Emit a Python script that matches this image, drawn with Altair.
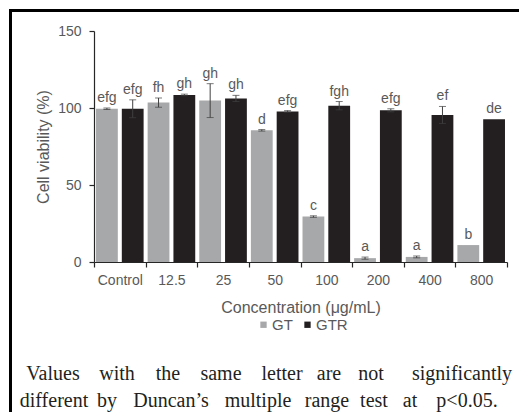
import altair as alt
import pandas as pd

categories = ["Control", "12.5", "25", "50", "100", "200", "400", "800"]
series = ["GT", "GTR"]

gt_values = [99.5, 103.5, 104.8, 85.5, 29.5, 2.5, 3.3, 11.0]
gt_errors = [0.5, 3.0, 11.0, 0.5, 0.5, 0.7, 0.6, 0.0]
gt_letters = ["efg", "fh", "gh", "d", "c", "a", "a", "b"]

gtr_values = [99.5, 108.5, 106.2, 97.8, 101.5, 98.5, 95.5, 92.7]
gtr_errors = [5.8, 0.5, 2.0, 0.5, 2.7, 1.0, 5.5, 0.0]
gtr_letters = ["efg", "gh", "gh", "efg", "fgh", "efg", "ef", "de"]

caption_line1 = ["Values", "with", "the", "same", "letter", "are", "not", "significantly"]
caption_line2 = ["different", "by", "Duncan\u2019s", "multiple", "range", "test", "at", "p<0.05."]

# layout: page-pixel centres of caption words; converted to plot coordinates below
PLOT_LEFT, PLOT_TOP = 94, 31
line1_x = [53, 117, 168, 221, 282, 329, 371, 462]
line2_x = [54, 107, 171, 258, 327, 374, 410, 467]
line1_y = 380
line2_y = 407

rows = []
for i, c in enumerate(categories):
    for g, vals, errs, lets in (("GT", gt_values, gt_errors, gt_letters),
                                ("GTR", gtr_values, gtr_errors, gtr_letters)):
        v, e = vals[i], errs[i]
        rows.append(dict(conc=c, group=g, value=v, err=e, lo=v - e, hi=v + e, letter=lets[i]))
df = pd.DataFrame(rows)

FONT = "Liberation Sans"
TXT = "#595959"
AX = "#262626"

x = alt.X("conc:N", sort=categories,
          scale=alt.Scale(paddingInner=0, paddingOuter=0),
          axis=alt.Axis(title="Concentration (\u03bcg/mL)", labelAngle=0, tickBand="extent",
                        labelFontSize=14, labelFont=FONT, labelColor=TXT, labelPadding=6,
                        tickSize=5, tickColor=AX, domainColor=AX, domainWidth=1.2, tickWidth=1.2,
                        titleFont=FONT, titleFontSize=16, titleFontWeight="normal", titleColor=TXT,
                        titleX=206.5, titleY=50, titleBaseline="alphabetic", grid=False))
xo = alt.XOffset("group:N", sort=series,
                 scale=alt.Scale(domain=series, paddingInner=0.155, paddingOuter=0.078))
y = alt.Y("value:Q", scale=alt.Scale(domain=[0, 150], nice=False),
          axis=alt.Axis(title="Cell viability  (%)", values=[0, 50, 100, 150],
                        labelFontSize=14, labelFont=FONT, labelColor=TXT, labelPadding=8,
                        tickSize=5, tickColor=AX, domainColor=AX, domainWidth=1.2, tickWidth=1.2,
                        titleFont=FONT, titleFontSize=16, titleFontWeight="normal", titleColor=TXT,
                        titleX=-51, titleY=115.5, titleAngle=-90, titleAlign="center",
                        titleBaseline="middle", grid=False))

color = alt.Color("group:N", sort=series,
                  scale=alt.Scale(domain=series, range=["#a7a8aa", "#231f20"]),
                  legend=alt.Legend(title=None, orient="none", legendX=162, legendY=286,
                                    direction="horizontal", symbolType="square", symbolSize=40,
                                    symbolStrokeWidth=0, labelFont=FONT, labelFontSize=15,
                                    labelColor=TXT, labelOffset=1, columnPadding=7, padding=0))

base = alt.Chart(df)
bars = base.mark_bar().encode(x=x, xOffset=xo, y=y, color=color)
err_df = base.transform_filter("datum.err > 0")
rules = err_df.mark_rule(color="#404040", strokeWidth=1).encode(x=x, xOffset=xo, y="lo:Q", y2="hi:Q")
cap_hi = err_df.mark_tick(color="#404040", thickness=1, size=7).encode(x=x, xOffset=xo, y="hi:Q")
cap_lo = err_df.mark_tick(color="#404040", thickness=1, size=7).encode(x=x, xOffset=xo, y="lo:Q")
letters = base.mark_text(dy=-6, baseline="alphabetic", font=FONT, fontSize=14, color=TXT).encode(
    x=x, xOffset=xo, y="hi:Q", text="letter:N")

one = pd.DataFrame({"a": [0]})
frame_left = alt.Chart(one).mark_rule(color="#000000", strokeWidth=3).encode(
    x=alt.value(-83.5), y=alt.value(-22), y2=alt.value(390))
frame_top = alt.Chart(one).mark_rule(color="#000000", strokeWidth=3).encode(
    x=alt.value(-85), x2=alt.value(440), y=alt.value(-20.5))

caption_layers = []
for words, xs, yy in ((caption_line1, line1_x, line1_y), (caption_line2, line2_x, line2_y)):
    for w, px in zip(words, xs):
        caption_layers.append(
            alt.Chart(one).mark_text(text=w, font="Liberation Serif", fontSize=20, color="#231f20",
                                     align="center", baseline="alphabetic").encode(
                x=alt.value(px - PLOT_LEFT), y=alt.value(yy - PLOT_TOP)))

chart = alt.layer(bars, rules, cap_hi, cap_lo, letters, frame_left, frame_top, *caption_layers).properties(
    width=413, height=231,
    autosize=alt.AutoSizeParams(type="none"),
    padding={"left": 86, "top": 23, "right": 12, "bottom": 150},
    background="white",
).configure_view(stroke=None)

chart.save("out.html", embed_options={"renderer": "svg", "actions": False})
